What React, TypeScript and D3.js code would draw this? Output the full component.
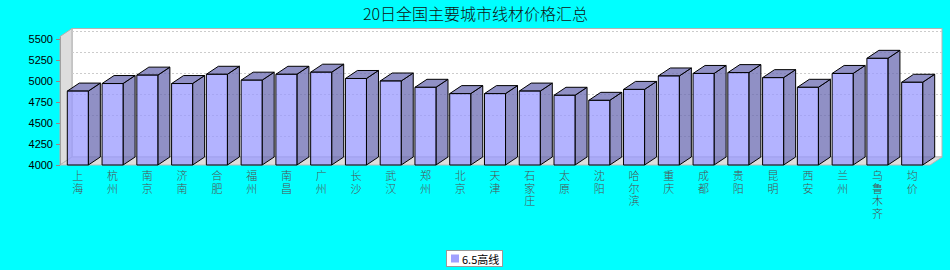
import React from "react";
import * as d3 from "d3";

const title = "20日全国主要城市线材价格汇总";
const seriesName = "6.5高线";
const cities = [
  "上海", "杭州", "南京", "济南", "合肥", "福州", "南昌", "广州", "长沙", "武汉",
  "郑州", "北京", "天津", "石家庄", "太原", "沈阳", "哈尔滨", "重庆", "成都", "贵阳",
  "昆明", "西安", "兰州", "乌鲁木齐", "均价",
];
const prices = [
  4880, 4970, 5070, 4970, 5080, 5010, 5080, 5105, 5030, 5000,
  4925, 4850, 4850, 4880, 4830, 4770, 4900, 5060, 5090, 5100,
  5040, 4925, 5090, 5270, 4985,
];
const yTicks = [4000, 4250, 4500, 4750, 5000, 5250, 5500];
const yDomain = [4000, 5530];

export default function App() {
  const W = 950, H = 270;
  const left = 60, right = 930, bottom = 165, top = 36.5;
  const dx = 12, dy = -8;
  const y = d3.scaleLinear().domain(yDomain).range([bottom, top]);
  const x = d3.scaleBand<string>().domain(cities).range([left, right]).paddingInner(0.395).paddingOuter(0.21);
  const bw = x.bandwidth();
  const font = "'Liberation Sans', Arial, sans-serif";
  const cjk = "'Noto Sans CJK SC', sans-serif";

  return (
    <svg width={W} height={H} style={{ position: "absolute", left: 0, top: 0 }} xmlns="http://www.w3.org/2000/svg">
      <rect x={0} y={0} width={W} height={H} fill="#00ffff" />
      <text x={475.5} y={12.5} textAnchor="middle" dominantBaseline="central" fontFamily={cjk} fontSize={16} fontWeight={300} fill="#111">{title}</text>

      {/* back wall */}
      <rect x={left + dx} y={top + dy} width={right - left} height={bottom - top} fill="#ffffff" stroke="#b4b4b4" strokeWidth={1} />
      {/* left wall */}
      <polygon points={`${left},${top} ${left + dx},${top + dy} ${left + dx},${bottom + dy} ${left},${bottom}`} fill="#dddddd" stroke="#b0b0b0" strokeWidth={1} />
      {/* floor */}
      <polygon points={`${left},${bottom} ${right},${bottom} ${right + dx},${bottom + dy} ${left + dx},${bottom + dy}`} fill="#dddddd" stroke="#b8b8b8" strokeWidth={1} />
      {/* gridlines */}
      {yTicks.filter((t) => t > 4000).map((t) => (
        <line key={t} x1={left + dx} x2={right + dx} y1={Math.round(y(t) + dy) + 0.5} y2={Math.round(y(t) + dy) + 0.5} stroke="#cccccc" strokeDasharray="2,2" strokeWidth={1} />
      ))}

      {/* y axis */}
      <line x1={left + 0.5} x2={left + 0.5} y1={top} y2={bottom} stroke="#a0a0a0" />
      {yTicks.map((t) => (
        <g key={t}>
          <line x1={56} x2={60} y1={Math.round(y(t)) + 0.5} y2={Math.round(y(t)) + 0.5} stroke="#a08080" />
          <text x={53} y={y(t)} textAnchor="end" dominantBaseline="central" fontFamily={font} fontSize={11} fill="#000">{t}</text>
        </g>
      ))}

      {/* bars */}
      {cities.map((c, i) => {
        const x0 = x(c)!;
        const x1 = x0 + bw;
        const yt = y(prices[i]);
        const side = `${x1},${yt} ${x1 + dx},${yt + dy} ${x1 + dx},${bottom + dy} ${x1},${bottom}`;
        const topF = `${x0},${yt} ${x0 + dx},${yt + dy} ${x1 + dx},${yt + dy} ${x1},${yt}`;
        return (
          <g key={c} stroke="#000" strokeWidth={1} strokeLinejoin="round">
            <polygon points={side} fill="#6b6bb2" fillOpacity={0.75} />
            <polygon points={topF} fill="#6b6bb2" fillOpacity={0.75} />
            <rect x={x0} y={yt} width={bw} height={bottom - yt} fill="#9999ff" fillOpacity={0.75} />
          </g>
        );
      })}

      {/* x labels */}
      {cities.map((c) => {
        const cx = x(c)! + bw / 2;
        return (
          <text key={c} fontFamily={cjk} fontSize={11} fontWeight={300} fill="#505050" textAnchor="middle">
            {Array.from(c).map((ch, k) => (
              <tspan key={k} x={cx} y={180 + k * 12.7}>{ch}</tspan>
            ))}
          </text>
        );
      })}

      {/* legend */}
      <rect x={446.5} y={250.5} width={56} height={16} fill="#ffffff" stroke="#999999" />
      <rect x={451} y={254.5} width={8} height={8} fill="#a0a0ff" />
      <text x={462} y={258.5} dominantBaseline="central" fontFamily={cjk} fontSize={11} fill="#000">{seriesName}</text>
    </svg>
  );
}
